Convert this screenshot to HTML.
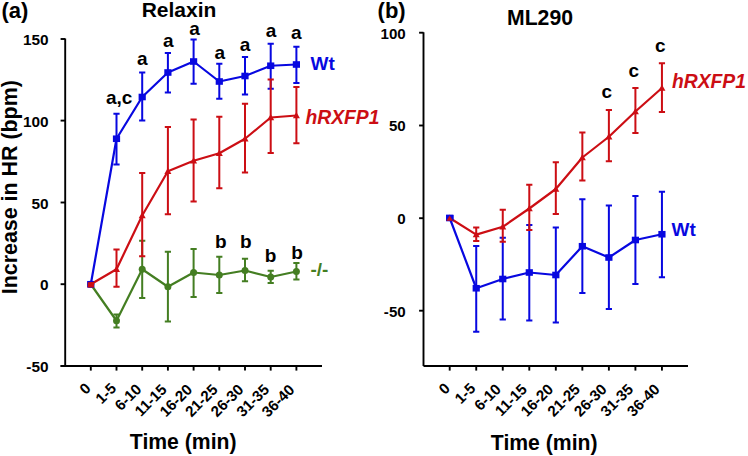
<!DOCTYPE html>
<html><head><meta charset="utf-8"><style>
html,body{margin:0;padding:0;background:#fff;}
body{width:748px;height:456px;overflow:hidden;}
svg{display:block;font-family:"Liberation Sans", sans-serif;font-weight:bold;}
</style></head><body>
<svg width="748" height="456" viewBox="0 0 748 456">
<rect width="748" height="456" fill="#fff"/>
<path d="M65.2 38.6V366M60.6 366H322" stroke="#000" stroke-width="1.9" fill="none"/>
<path d="M60.6 39.0H65.2" stroke="#000" stroke-width="1.9"/>
<text x="48.6" y="45.0" font-size="15.4" text-anchor="end" fill="#000">150</text>
<path d="M60.6 120.6H65.2" stroke="#000" stroke-width="1.9"/>
<text x="48.6" y="126.6" font-size="15.4" text-anchor="end" fill="#000">100</text>
<path d="M60.6 202.5H65.2" stroke="#000" stroke-width="1.9"/>
<text x="48.6" y="208.5" font-size="15.4" text-anchor="end" fill="#000">50</text>
<path d="M60.6 284.2H65.2" stroke="#000" stroke-width="1.9"/>
<text x="48.6" y="290.2" font-size="15.4" text-anchor="end" fill="#000">0</text>
<path d="M60.6 366H65.2" stroke="#000" stroke-width="1.9"/>
<text x="48.6" y="372.0" font-size="15.4" text-anchor="end" fill="#000">-50</text>
<path d="M90.80 366V370.6" stroke="#000" stroke-width="1.9"/>
<path d="M116.50 366V370.6" stroke="#000" stroke-width="1.9"/>
<path d="M142.20 366V370.6" stroke="#000" stroke-width="1.9"/>
<path d="M167.90 366V370.6" stroke="#000" stroke-width="1.9"/>
<path d="M193.60 366V370.6" stroke="#000" stroke-width="1.9"/>
<path d="M219.30 366V370.6" stroke="#000" stroke-width="1.9"/>
<path d="M245.00 366V370.6" stroke="#000" stroke-width="1.9"/>
<path d="M270.70 366V370.6" stroke="#000" stroke-width="1.9"/>
<path d="M296.40 366V370.6" stroke="#000" stroke-width="1.9"/>
<text transform="translate(91.60,389.40) rotate(-45)" font-size="15.1" text-anchor="end">0</text>
<text transform="translate(117.20,389.40) rotate(-45)" font-size="15.1" text-anchor="end">1-5</text>
<text transform="translate(142.40,390.20) rotate(-45)" font-size="15.1" text-anchor="end">6-10</text>
<text transform="translate(167.60,390.50) rotate(-45)" font-size="15.1" text-anchor="end">11-15</text>
<text transform="translate(193.20,390.50) rotate(-45)" font-size="15.1" text-anchor="end">16-20</text>
<text transform="translate(218.70,390.50) rotate(-45)" font-size="15.1" text-anchor="end">21-25</text>
<text transform="translate(244.40,390.50) rotate(-45)" font-size="15.1" text-anchor="end">26-30</text>
<text transform="translate(270.10,390.50) rotate(-45)" font-size="15.1" text-anchor="end">31-35</text>
<text transform="translate(295.40,390.80) rotate(-45)" font-size="15.1" text-anchor="end">36-40</text>
<text x="183.2" y="448.5" font-size="21.2" text-anchor="middle" fill="#000">Time (min)</text>
<text transform="translate(16.6,187.2) rotate(-90)" font-size="21.4" text-anchor="middle">Increase in HR (bpm)</text>
<text x="1.4" y="18.4" font-size="22" text-anchor="start" fill="#000">(a)</text>
<text x="179.0" y="16.8" font-size="21" text-anchor="middle" fill="#000">Relaxin</text>
<path d="M116.50 314.50V327.50M113.40 314.50H119.60M113.40 327.50H119.60" stroke="#447e22" stroke-width="2.0" fill="none"/>
<path d="M142.20 240.75V298.00M139.10 240.75H145.30M139.10 298.00H145.30" stroke="#447e22" stroke-width="2.0" fill="none"/>
<path d="M167.90 251.75V321.50M164.80 251.75H171.00M164.80 321.50H171.00" stroke="#447e22" stroke-width="2.0" fill="none"/>
<path d="M193.60 249.00V297.00M190.50 249.00H196.70M190.50 297.00H196.70" stroke="#447e22" stroke-width="2.0" fill="none"/>
<path d="M219.30 256.75V293.00M216.20 256.75H222.40M216.20 293.00H222.40" stroke="#447e22" stroke-width="2.0" fill="none"/>
<path d="M245.00 258.75V281.25M241.90 258.75H248.10M241.90 281.25H248.10" stroke="#447e22" stroke-width="2.0" fill="none"/>
<path d="M270.70 270.75V283.00M267.60 270.75H273.80M267.60 283.00H273.80" stroke="#447e22" stroke-width="2.0" fill="none"/>
<path d="M296.40 263.00V279.50M293.30 263.00H299.50M293.30 279.50H299.50" stroke="#447e22" stroke-width="2.0" fill="none"/>
<polyline points="90.80,284.25 116.50,320.75 142.20,269.25 167.90,286.75 193.60,272.50 219.30,275.00 245.00,270.50 270.70,277.00 296.40,271.50" stroke="#447e22" stroke-width="2.2" fill="none" stroke-linejoin="round"/>
<circle cx="90.80" cy="284.25" r="3.5" fill="#447e22"/>
<circle cx="116.50" cy="320.75" r="3.5" fill="#447e22"/>
<circle cx="142.20" cy="269.25" r="3.5" fill="#447e22"/>
<circle cx="167.90" cy="286.75" r="3.5" fill="#447e22"/>
<circle cx="193.60" cy="272.50" r="3.5" fill="#447e22"/>
<circle cx="219.30" cy="275.00" r="3.5" fill="#447e22"/>
<circle cx="245.00" cy="270.50" r="3.5" fill="#447e22"/>
<circle cx="270.70" cy="277.00" r="3.5" fill="#447e22"/>
<circle cx="296.40" cy="271.50" r="3.5" fill="#447e22"/>
<path d="M116.50 113.75V164.50M113.40 113.75H119.60M113.40 164.50H119.60" stroke="#0808e0" stroke-width="2.0" fill="none"/>
<path d="M142.20 72.50V120.50M139.10 72.50H145.30M139.10 120.50H145.30" stroke="#0808e0" stroke-width="2.0" fill="none"/>
<path d="M167.90 53.00V92.50M164.80 53.00H171.00M164.80 92.50H171.00" stroke="#0808e0" stroke-width="2.0" fill="none"/>
<path d="M193.60 39.50V83.75M190.50 39.50H196.70M190.50 83.75H196.70" stroke="#0808e0" stroke-width="2.0" fill="none"/>
<path d="M219.30 63.75V98.75M216.20 63.75H222.40M216.20 98.75H222.40" stroke="#0808e0" stroke-width="2.0" fill="none"/>
<path d="M245.00 57.00V94.50M241.90 57.00H248.10M241.90 94.50H248.10" stroke="#0808e0" stroke-width="2.0" fill="none"/>
<path d="M270.70 43.75V88.75M267.60 43.75H273.80M267.60 88.75H273.80" stroke="#0808e0" stroke-width="2.0" fill="none"/>
<path d="M296.40 46.75V83.00M293.30 46.75H299.50M293.30 83.00H299.50" stroke="#0808e0" stroke-width="2.0" fill="none"/>
<polyline points="90.80,284.25 116.50,138.75 142.20,97.00 167.90,72.50 193.60,61.50 219.30,81.50 245.00,76.00 270.70,65.75 296.40,64.50" stroke="#0808e0" stroke-width="2.2" fill="none" stroke-linejoin="round"/>
<rect x="87.20" y="280.95" width="7.2" height="6.6" fill="#0808e0"/>
<rect x="112.90" y="135.45" width="7.2" height="6.6" fill="#0808e0"/>
<rect x="138.60" y="93.70" width="7.2" height="6.6" fill="#0808e0"/>
<rect x="164.30" y="69.20" width="7.2" height="6.6" fill="#0808e0"/>
<rect x="190.00" y="58.20" width="7.2" height="6.6" fill="#0808e0"/>
<rect x="215.70" y="78.20" width="7.2" height="6.6" fill="#0808e0"/>
<rect x="241.40" y="72.70" width="7.2" height="6.6" fill="#0808e0"/>
<rect x="267.10" y="62.45" width="7.2" height="6.6" fill="#0808e0"/>
<rect x="292.80" y="61.20" width="7.2" height="6.6" fill="#0808e0"/>
<path d="M116.50 249.50V286.80M113.40 249.50H119.60M113.40 286.80H119.60" stroke="#cc0e14" stroke-width="2.0" fill="none"/>
<path d="M142.20 173.00V256.20M139.10 173.00H145.30M139.10 256.20H145.30" stroke="#cc0e14" stroke-width="2.0" fill="none"/>
<path d="M167.90 127.00V214.25M164.80 127.00H171.00M164.80 214.25H171.00" stroke="#cc0e14" stroke-width="2.0" fill="none"/>
<path d="M193.60 119.50V201.50M190.50 119.50H196.70M190.50 201.50H196.70" stroke="#cc0e14" stroke-width="2.0" fill="none"/>
<path d="M219.30 116.75V188.25M216.20 116.75H222.40M216.20 188.25H222.40" stroke="#cc0e14" stroke-width="2.0" fill="none"/>
<path d="M245.00 103.75V172.50M241.90 103.75H248.10M241.90 172.50H248.10" stroke="#cc0e14" stroke-width="2.0" fill="none"/>
<path d="M270.70 79.50V153.00M267.60 79.50H273.80M267.60 153.00H273.80" stroke="#cc0e14" stroke-width="2.0" fill="none"/>
<path d="M296.40 87.00V143.25M293.30 87.00H299.50M293.30 143.25H299.50" stroke="#cc0e14" stroke-width="2.0" fill="none"/>
<polyline points="90.80,284.25 116.50,269.20 142.20,215.50 167.90,171.25 193.60,160.75 219.30,153.25 245.00,138.75 270.70,117.50 296.40,115.50" stroke="#cc0e14" stroke-width="2.2" fill="none" stroke-linejoin="round"/>
<path d="M90.80 280.65L94.30 286.95L87.30 286.95Z" fill="#cc0e14"/>
<path d="M116.50 265.60L120.00 271.90L113.00 271.90Z" fill="#cc0e14"/>
<path d="M142.20 211.90L145.70 218.20L138.70 218.20Z" fill="#cc0e14"/>
<path d="M167.90 167.65L171.40 173.95L164.40 173.95Z" fill="#cc0e14"/>
<path d="M193.60 157.15L197.10 163.45L190.10 163.45Z" fill="#cc0e14"/>
<path d="M219.30 149.65L222.80 155.95L215.80 155.95Z" fill="#cc0e14"/>
<path d="M245.00 135.15L248.50 141.45L241.50 141.45Z" fill="#cc0e14"/>
<path d="M270.70 113.90L274.20 120.20L267.20 120.20Z" fill="#cc0e14"/>
<path d="M296.40 111.90L299.90 118.20L292.90 118.20Z" fill="#cc0e14"/>
<rect x="87.60" y="281.05" width="6.4" height="6.4" fill="#0808e0"/>
<path d="M87.80 282.25L94.00 281.65L94.00 287.45L87.60 287.45Z" fill="#cc0e14"/>
<text x="142.2" y="65.2" font-size="19" text-anchor="middle" fill="#000">a</text>
<text x="168.4" y="47" font-size="19" text-anchor="middle" fill="#000">a</text>
<text x="194.5" y="35.2" font-size="19" text-anchor="middle" fill="#000">a</text>
<text x="219.9" y="58.6" font-size="19" text-anchor="middle" fill="#000">a</text>
<text x="245" y="50.5" font-size="19" text-anchor="middle" fill="#000">a</text>
<text x="271" y="37.2" font-size="19" text-anchor="middle" fill="#000">a</text>
<text x="296.4" y="39.4" font-size="19" text-anchor="middle" fill="#000">a</text>
<text x="106.0" y="104.1" font-size="19" text-anchor="start" fill="#000">a,c</text>
<text x="220.8" y="248" font-size="19" text-anchor="middle" fill="#000">b</text>
<text x="245.8" y="248" font-size="19" text-anchor="middle" fill="#000">b</text>
<text x="270.6" y="262.1" font-size="19" text-anchor="middle" fill="#000">b</text>
<text x="297" y="258.7" font-size="19" text-anchor="middle" fill="#000">b</text>
<text x="310.5" y="70" font-size="19" text-anchor="start" fill="#0808e0">Wt</text>
<text x="305.5" y="123.9" font-size="19.3" text-anchor="start" fill="#cc0e14" font-style="italic">hRXFP1</text>
<text x="310.5" y="276.4" font-size="19" text-anchor="start" fill="#447e22">-/-</text>
<path d="M423.5 32.2V366M423.5 366H688" stroke="#000" stroke-width="1.9" fill="none"/>
<path d="M419.1 32.7H423.5" stroke="#000" stroke-width="1.9"/>
<text x="405.7" y="38.5" font-size="15.1" text-anchor="end" fill="#000">100</text>
<path d="M419.1 125.5H423.5" stroke="#000" stroke-width="1.9"/>
<text x="405.7" y="131.3" font-size="15.1" text-anchor="end" fill="#000">50</text>
<path d="M419.1 218.2H423.5" stroke="#000" stroke-width="1.9"/>
<text x="405.7" y="224.0" font-size="15.1" text-anchor="end" fill="#000">0</text>
<path d="M419.1 310.7H423.5" stroke="#000" stroke-width="1.9"/>
<text x="405.7" y="316.5" font-size="15.1" text-anchor="end" fill="#000">-50</text>
<path d="M449.70 366V370.6" stroke="#000" stroke-width="1.9"/>
<path d="M476.23 366V370.6" stroke="#000" stroke-width="1.9"/>
<path d="M502.76 366V370.6" stroke="#000" stroke-width="1.9"/>
<path d="M529.29 366V370.6" stroke="#000" stroke-width="1.9"/>
<path d="M555.82 366V370.6" stroke="#000" stroke-width="1.9"/>
<path d="M582.35 366V370.6" stroke="#000" stroke-width="1.9"/>
<path d="M608.88 366V370.6" stroke="#000" stroke-width="1.9"/>
<path d="M635.41 366V370.6" stroke="#000" stroke-width="1.9"/>
<path d="M661.94 366V370.6" stroke="#000" stroke-width="1.9"/>
<text transform="translate(451.00,389.40) rotate(-45)" font-size="15.1" text-anchor="end">0</text>
<text transform="translate(476.33,389.40) rotate(-45)" font-size="15.1" text-anchor="end">1-5</text>
<text transform="translate(501.86,390.20) rotate(-45)" font-size="15.1" text-anchor="end">6-10</text>
<text transform="translate(527.99,390.20) rotate(-45)" font-size="15.1" text-anchor="end">11-15</text>
<text transform="translate(554.22,390.20) rotate(-45)" font-size="15.1" text-anchor="end">16-20</text>
<text transform="translate(581.05,390.20) rotate(-45)" font-size="15.1" text-anchor="end">21-25</text>
<text transform="translate(607.58,390.20) rotate(-45)" font-size="15.1" text-anchor="end">26-30</text>
<text transform="translate(634.11,390.20) rotate(-45)" font-size="15.1" text-anchor="end">31-35</text>
<text transform="translate(660.64,390.20) rotate(-45)" font-size="15.1" text-anchor="end">36-40</text>
<text x="544.2" y="449.8" font-size="21.2" text-anchor="middle" fill="#000">Time (min)</text>
<text x="377.6" y="18.2" font-size="22" text-anchor="start" fill="#000">(b)</text>
<text x="540" y="24.8" font-size="21.2" text-anchor="middle" fill="#000">ML290</text>
<path d="M476.23 246.10V331.75M473.13 246.10H479.33M473.13 331.75H479.33" stroke="#0808e0" stroke-width="2.0" fill="none"/>
<path d="M502.76 237.80V319.50M499.66 237.80H505.86M499.66 319.50H505.86" stroke="#0808e0" stroke-width="2.0" fill="none"/>
<path d="M529.29 225.00V320.50M526.19 225.00H532.39M526.19 320.50H532.39" stroke="#0808e0" stroke-width="2.0" fill="none"/>
<path d="M555.82 227.40V322.50M552.72 227.40H558.92M552.72 322.50H558.92" stroke="#0808e0" stroke-width="2.0" fill="none"/>
<path d="M582.35 199.25V293.00M579.25 199.25H585.45M579.25 293.00H585.45" stroke="#0808e0" stroke-width="2.0" fill="none"/>
<path d="M608.88 205.50V309.00M605.78 205.50H611.98M605.78 309.00H611.98" stroke="#0808e0" stroke-width="2.0" fill="none"/>
<path d="M635.41 196.00V284.00M632.31 196.00H638.51M632.31 284.00H638.51" stroke="#0808e0" stroke-width="2.0" fill="none"/>
<path d="M661.94 191.75V277.25M658.84 191.75H665.04M658.84 277.25H665.04" stroke="#0808e0" stroke-width="2.0" fill="none"/>
<polyline points="449.70,218.00 476.23,288.25 502.76,279.00 529.29,272.50 555.82,275.00 582.35,246.25 608.88,257.50 635.41,240.00 661.94,234.25" stroke="#0808e0" stroke-width="2.2" fill="none" stroke-linejoin="round"/>
<rect x="446.10" y="214.70" width="7.2" height="6.6" fill="#0808e0"/>
<rect x="472.63" y="284.95" width="7.2" height="6.6" fill="#0808e0"/>
<rect x="499.16" y="275.70" width="7.2" height="6.6" fill="#0808e0"/>
<rect x="525.69" y="269.20" width="7.2" height="6.6" fill="#0808e0"/>
<rect x="552.22" y="271.70" width="7.2" height="6.6" fill="#0808e0"/>
<rect x="578.75" y="242.95" width="7.2" height="6.6" fill="#0808e0"/>
<rect x="605.28" y="254.20" width="7.2" height="6.6" fill="#0808e0"/>
<rect x="631.81" y="236.70" width="7.2" height="6.6" fill="#0808e0"/>
<rect x="658.34" y="230.95" width="7.2" height="6.6" fill="#0808e0"/>
<path d="M476.23 227.40V241.00M473.13 227.40H479.33M473.13 241.00H479.33" stroke="#cc0e14" stroke-width="2.0" fill="none"/>
<path d="M502.76 209.80V241.70M499.66 209.80H505.86M499.66 241.70H505.86" stroke="#cc0e14" stroke-width="2.0" fill="none"/>
<path d="M529.29 184.80V230.00M526.19 184.80H532.39M526.19 230.00H532.39" stroke="#cc0e14" stroke-width="2.0" fill="none"/>
<path d="M555.82 162.30V214.00M552.72 162.30H558.92M552.72 214.00H558.92" stroke="#cc0e14" stroke-width="2.0" fill="none"/>
<path d="M582.35 132.50V180.50M579.25 132.50H585.45M579.25 180.50H585.45" stroke="#cc0e14" stroke-width="2.0" fill="none"/>
<path d="M608.88 110.00V161.25M605.78 110.00H611.98M605.78 161.25H611.98" stroke="#cc0e14" stroke-width="2.0" fill="none"/>
<path d="M635.41 88.00V133.00M632.31 88.00H638.51M632.31 133.00H638.51" stroke="#cc0e14" stroke-width="2.0" fill="none"/>
<path d="M661.94 63.25V112.00M658.84 63.25H665.04M658.84 112.00H665.04" stroke="#cc0e14" stroke-width="2.0" fill="none"/>
<polyline points="449.70,218.00 476.23,234.60 502.76,226.80 529.29,208.50 555.82,189.00 582.35,157.50 608.88,136.75 635.41,111.50 661.94,88.00" stroke="#cc0e14" stroke-width="2.2" fill="none" stroke-linejoin="round"/>
<path d="M449.70 214.40L453.20 220.70L446.20 220.70Z" fill="#cc0e14"/>
<path d="M476.23 231.00L479.73 237.30L472.73 237.30Z" fill="#cc0e14"/>
<path d="M502.76 223.20L506.26 229.50L499.26 229.50Z" fill="#cc0e14"/>
<path d="M529.29 204.90L532.79 211.20L525.79 211.20Z" fill="#cc0e14"/>
<path d="M555.82 185.40L559.32 191.70L552.32 191.70Z" fill="#cc0e14"/>
<path d="M582.35 153.90L585.85 160.20L578.85 160.20Z" fill="#cc0e14"/>
<path d="M608.88 133.15L612.38 139.45L605.38 139.45Z" fill="#cc0e14"/>
<path d="M635.41 107.90L638.91 114.20L631.91 114.20Z" fill="#cc0e14"/>
<path d="M661.94 84.40L665.44 90.70L658.44 90.70Z" fill="#cc0e14"/>
<rect x="446.00" y="214.90" width="7.6" height="6" fill="#0808e0"/>
<path d="M449.70 215.40L453.00 220.80L446.40 220.80Z" fill="#cc0e14"/>
<text x="606.9" y="97.7" font-size="19" text-anchor="middle" fill="#000">c</text>
<text x="633.8" y="77.1" font-size="19" text-anchor="middle" fill="#000">c</text>
<text x="660.4" y="52.4" font-size="19" text-anchor="middle" fill="#000">c</text>
<text x="672" y="87.5" font-size="19.3" text-anchor="start" fill="#cc0e14" font-style="italic">hRXFP1</text>
<text x="671.5" y="235.5" font-size="19" text-anchor="start" fill="#0808e0">Wt</text>
</svg>
</body></html>
